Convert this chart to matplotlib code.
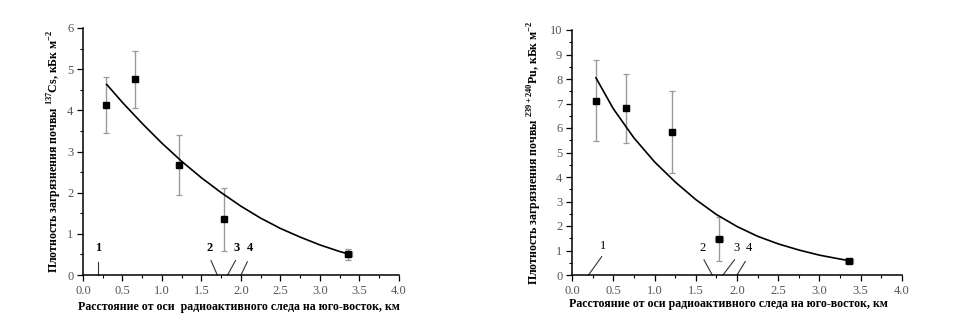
import matplotlib
matplotlib.use("Agg")
import matplotlib.pyplot as plt
from matplotlib.ticker import MultipleLocator

plt.rcParams['font.family'] = ['Liberation Serif', 'DejaVu Serif']
plt.rcParams['mathtext.fontset'] = 'custom'
plt.rcParams['mathtext.rm'] = 'Liberation Serif'
plt.rcParams['mathtext.bf'] = 'Liberation Serif:bold'

# --- Cs-137 data ---
cs_x = [0.29, 0.66, 1.21, 1.78, 3.36]
cs_y = [4.13, 4.75, 2.67, 1.35, 0.50]
cs_yerr = [0.67, 0.70, 0.73, 0.76, 0.13]
cs_xerr = [0.03, 0.03, 0.03, 0.03, 0.04]
cs_fit_x = [0.30, 0.50, 0.75, 1.00, 1.25, 1.50, 1.75, 2.00, 2.25, 2.50, 2.75, 3.00, 3.25, 3.36]
cs_fit_y = [4.63, 4.19, 3.68, 3.20, 2.76, 2.36, 2.00, 1.67, 1.38, 1.13, 0.92, 0.73, 0.57, 0.51]

# --- Pu-239+240 data ---
pu_x = [0.29, 0.66, 1.21, 1.78, 3.36]
pu_y = [7.12, 6.80, 5.83, 1.47, 0.56]
pu_yerr = [1.65, 1.40, 1.67, 0.90, 0.08]
pu_xerr = [0.04, 0.03, 0.04, 0.05, 0.05]
pu_fit_x = [0.29, 0.50, 0.75, 1.00, 1.25, 1.50, 1.75, 2.00, 2.25, 2.50, 2.75, 3.00, 3.25, 3.35]
pu_fit_y = [8.05, 6.79, 5.60, 4.62, 3.80, 3.08, 2.47, 1.98, 1.58, 1.27, 1.02, 0.81, 0.65, 0.59]

xticks = [0.0, 0.5, 1.0, 1.5, 2.0, 2.5, 3.0, 3.5, 4.0]

# annotation markers: (label, line start, line end, text position)
cs_marks = [("1", (0.19, 0.0), (0.19, 0.32), (0.19, 0.50)),
            ("2", (1.70, 0.0), (1.62, 0.35), (1.60, 0.50)),
            ("3", (1.83, 0.0), (1.93, 0.35), (1.95, 0.50)),
            ("4", (2.00, 0.0), (2.08, 0.32), (2.12, 0.50))]
pu_marks = [("1", (0.20, 0.0), (0.36, 0.75), (0.38, 0.92)),
            ("2", (1.70, 0.0), (1.60, 0.62), (1.58, 0.85)),
            ("3", (1.83, 0.0), (1.97, 0.62), (2.00, 0.85)),
            ("4", (2.00, 0.0), (2.10, 0.55), (2.14, 0.85))]

fig = plt.figure(figsize=(9.7, 3.24), dpi=100)
ax1 = fig.add_axes([83/970, 1-275/324, 316/970, 247/324])
ax2 = fig.add_axes([572/970, 1-275/324, 330/970, 245/324])


def style(ax, ymax, ystep):
    ax.set_xlim(0, 4.0)
    ax.set_ylim(0, ymax)
    for s in ('top', 'right'):
        ax.spines[s].set_visible(False)
    for s in ('left', 'bottom'):
        ax.spines[s].set_linewidth(1.1)
    ax.set_xticks(xticks)
    ax.set_xticklabels([f"{t:.1f}" for t in xticks])
    ax.xaxis.set_minor_locator(MultipleLocator(0.25))
    ax.yaxis.set_major_locator(MultipleLocator(ystep))
    ax.yaxis.set_minor_locator(MultipleLocator(ystep / 2))
    ax.tick_params(which='major', direction='out', length=4, width=0.9,
                   labelsize=9, labelcolor='#555555', pad=3)
    ax.tick_params(which='minor', direction='out', length=2.5, width=0.8)


style(ax1, 6, 1)
style(ax2, 10, 1)

for ax, x, y, ye, xe, fx, fy, marks, bold in [
        (ax1, cs_x, cs_y, cs_yerr, cs_xerr, cs_fit_x, cs_fit_y, cs_marks, True),
        (ax2, pu_x, pu_y, pu_yerr, pu_xerr, pu_fit_x, pu_fit_y, pu_marks, False)]:
    ax.errorbar(x, y, yerr=ye, xerr=xe, fmt='none', ecolor='#9a9a9a',
                elinewidth=1.0, capsize=2.5, capthick=0.9, zorder=2)
    ax.plot(fx, fy, color='black', lw=1.2, zorder=3)
    ax.plot(x, y, 's', color='black', ms=5, zorder=4)
    for lab, p0, p1, pt in marks:
        ax.plot([p0[0], p1[0]], [p0[1], p1[1]], color='#333333', lw=0.8,
                clip_on=False)
        ax.text(pt[0], pt[1], lab, ha='center', va='bottom',
                fontsize=9, fontweight='bold' if bold else 'normal')

ax1.set_ylabel('Плотность загрязнения почвы $^{\\mathbf{137}}$Cs, кБк м$^{\\mathbf{-2}}$',
               fontsize=8.6, fontweight='bold')
ax1.yaxis.set_label_coords(-0.060, 0.5)
ax1.set_xlabel('Расстояние от оси  радиоактивного следа на юго-восток, км',
               fontsize=8.6, fontweight='bold')
ax1.xaxis.set_label_coords(0.495, -0.105)

ax2.set_ylabel('Плотность загрязнения почвы $^{\\mathbf{239+240}}$Pu, кБк м$^{\\mathbf{-2}}$',
               fontsize=8.6, fontweight='bold')
ax2.yaxis.set_label_coords(-0.085, 0.5)
ax2.set_xlabel('Расстояние от оси радиоактивного следа на юго-восток, км',
               fontsize=8.6, fontweight='bold')
ax2.xaxis.set_label_coords(0.475, -0.094)

fig.savefig('out.png', dpi=100)
